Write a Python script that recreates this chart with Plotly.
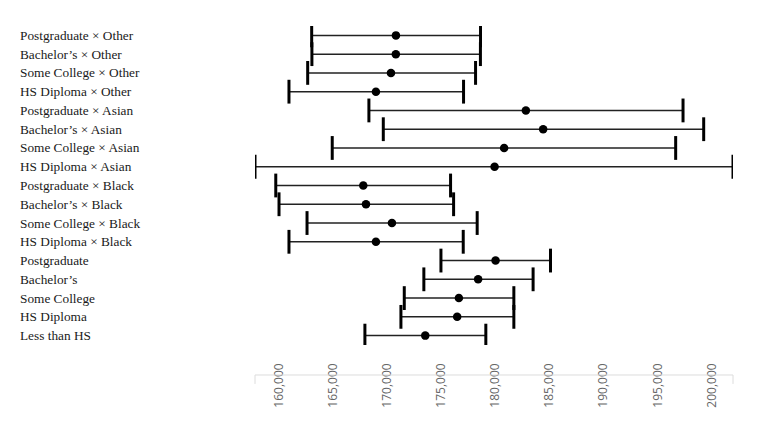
import plotly.graph_objects as go

# rows top to bottom
labels = [
    "Postgraduate × Other", "Bachelor’s × Other", "Some College × Other", "HS Diploma × Other",
    "Postgraduate × Asian", "Bachelor’s × Asian", "Some College × Asian", "HS Diploma × Asian",
    "Postgraduate × Black", "Bachelor’s × Black", "Some College × Black", "HS Diploma × Black",
    "Postgraduate", "Bachelor’s", "Some College", "HS Diploma", "Less than HS",
]
estimate = [170810, 170800, 170350, 168960, 182820, 184420, 180810, 179930,
            167790, 168040, 170440, 168960, 180020, 178410, 176630, 176470, 173520]
lower = [163020, 163040, 162650, 160920, 168310, 169640, 164920, 157780,
         159700, 160000, 162590, 160920, 174970, 173390, 171580, 171270, 167940]
upper = [178630, 178620, 178170, 177060, 197350, 199260, 196670, 201970,
         175860, 176140, 178320, 177030, 185100, 183490, 181710, 181710, 179120]
tick_vals = [160000, 165000, 170000, 175000, 180000, 185000, 190000, 195000, 200000]

fig = go.Figure()

# interval lines (no caps, caps drawn separately as thicker ticks)
fig.add_trace(go.Scatter(
    x=estimate, y=labels, mode="markers",
    marker=dict(color="black", size=8.5),
    error_x=dict(type="data", symmetric=False,
                 array=[u - e for u, e in zip(upper, estimate)],
                 arrayminus=[e - l for e, l in zip(estimate, lower)],
                 color="#222", thickness=1.5, width=0),
    hoverinfo="skip", showlegend=False,
))
fig.add_trace(go.Scatter(
    x=lower + upper, y=labels + labels, mode="markers",
    marker=dict(symbol="line-ns-open", size=17, color="black",
                line=dict(color="black", width=3)),
    hoverinfo="skip", showlegend=False,
))

# left aligned row labels
for lab in labels:
    fig.add_annotation(x=-0.4958, xref="paper", y=lab, yref="y", text=lab,
                       showarrow=False, xanchor="left", align="left",
                       font=dict(family="Liberation Serif", size=13.3, color="#1a1a1a"))

# axis baseline with end ticks
fig.add_shape(type="path", xref="paper", yref="paper",
              path="M 0,-0.122 L 0,-0.094 L 1,-0.094 L 1,-0.122",
              line=dict(color="#dcdcdc", width=1))

fig.update_xaxes(range=[min(lower), max(upper)], tickvals=tick_vals, tickformat=",",
                 tickangle=-90, showgrid=False, zeroline=False, showline=False,
                 ticks="", ticklabelstandoff=15,
                 tickfont=dict(family="Open Sans", size=12, color="#666"))
fig.update_yaxes(categoryorder="array", categoryarray=labels[::-1],
                 range=[-0.5, len(labels) - 0.5], showticklabels=False,
                 showgrid=False, zeroline=False, showline=False)

# page body has an 8px margin, so the figure is shrunk by that much
fig.update_layout(width=755, height=417, margin=dict(l=247, r=30, t=18, b=80),
                  plot_bgcolor="white", paper_bgcolor="white")

fig.write_html("out.html")
